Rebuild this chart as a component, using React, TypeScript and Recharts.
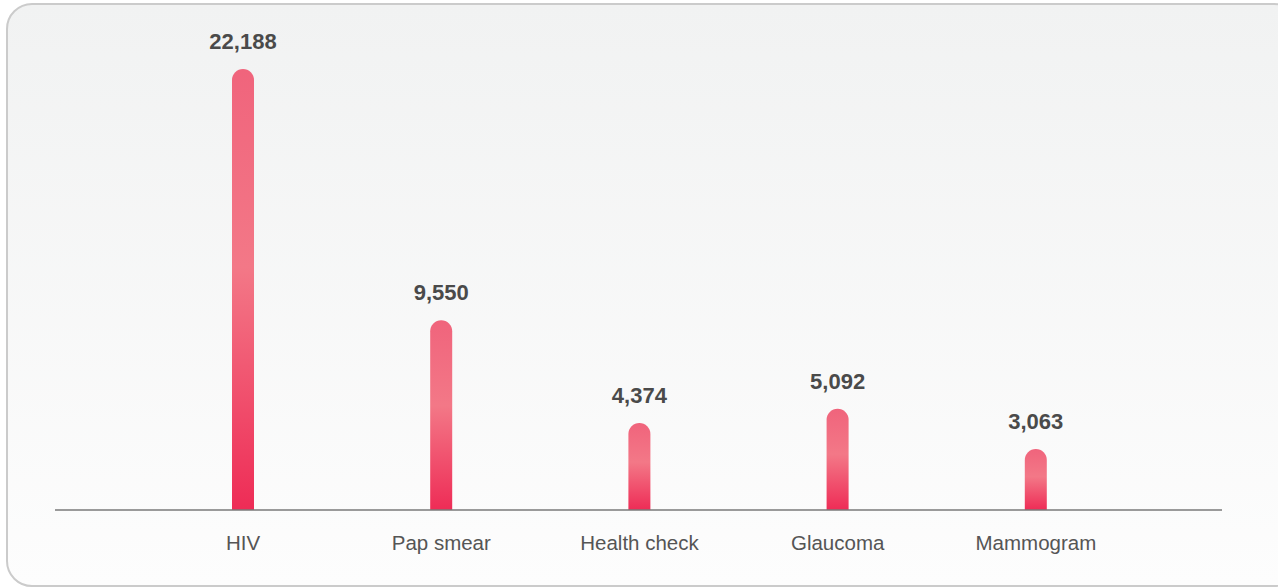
import React from "react";
import { Bar, BarChart, LabelList, XAxis, YAxis } from "recharts";

const screenings = ["HIV", "Pap smear", "Health check", "Glaucoma", "Mammogram"];
const tests = [22188, 9550, 4374, 5092, 3063];

const chartData = screenings.map((name, i) => ({ name, tests: tests[i] }));

const fmt = (v: unknown) => Number(v).toLocaleString("en-US");

export default function App() {
  return (
    <div style={{ position: "absolute", left: 0, top: 0, width: 1278, height: 587, overflow: "hidden" }}>
      <div
        style={{
          position: "absolute",
          left: 6,
          top: 3,
          width: 1290,
          height: 580,
          border: "2px solid #cbcbcb",
          borderRadius: 26,
          background: "linear-gradient(#f1f2f2, #fdfdfd)",
        }}
      />
      <div style={{ position: "absolute", left: 0, top: 0 }}>
        <BarChart
          width={1278}
          height={587}
          data={chartData}
          margin={{ top: 69, right: 56, bottom: 47, left: 55 }}
          style={{ fontFamily: "'Liberation Sans', Arial, sans-serif" }}
        >
          <defs>
            <linearGradient id="barFill" x1="0" y1="0" x2="0" y2="1">
              <stop offset="0%" stopColor="#f0647c" />
              <stop offset="45%" stopColor="#f37887" />
              <stop offset="100%" stopColor="#ee2c56" />
            </linearGradient>
          </defs>
          <XAxis
            dataKey="name"
            height={30}
            axisLine={{ stroke: "#7a7a7a", strokeWidth: 1.5 }}
            tickLine={false}
            tickSize={0}
            tickMargin={25}
            padding={{ left: 89, right: 87 }}
            tick={{ fill: "#555555", fontSize: 20.5 }}
          />
          <YAxis hide domain={[0, 22188]} />
          <Bar dataKey="tests" fill="url(#barFill)" barSize={22} radius={[11, 11, 0, 0]} isAnimationActive={false}>
            <LabelList
              dataKey="tests"
              position="top"
              offset={20}
              formatter={fmt}
              style={{ fill: "#4a4a4a", fontSize: 22, fontWeight: 700 }}
            />
          </Bar>
        </BarChart>
      </div>
    </div>
  );
}
